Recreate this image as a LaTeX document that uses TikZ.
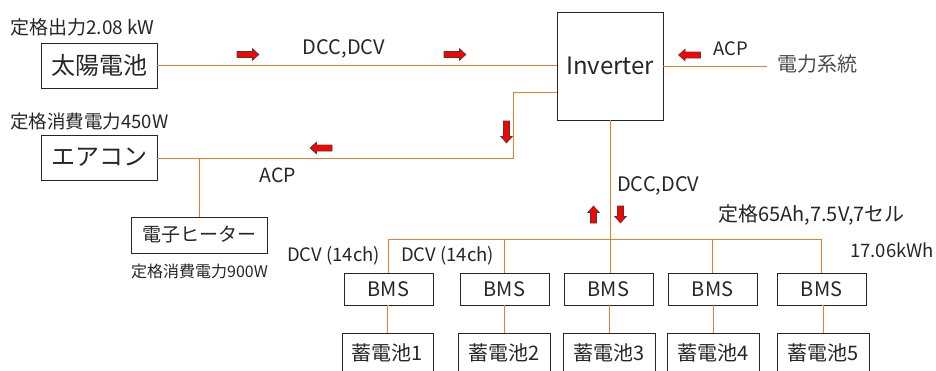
\documentclass[tikz,border=0pt]{standalone}
\usepackage{fontspec}
\setmainfont{Noto Sans CJK JP}
\newcommand{\myfs}[1]{\fontsize{#1}{#1}\selectfont}
\newcommand{\blkarrow}[3]{% center, rotation, length
  \begin{scope}[shift={#1}, rotate=#2]
    \filldraw[blkarr] (-#3/2,-3) -- (#3/2-6.5,-3) -- (#3/2-6.5,-5.8) -- (#3/2,0)
      -- (#3/2-6.5,5.8) -- (#3/2-6.5,3) -- (-#3/2,3) -- cycle;
  \end{scope}}
\definecolor{wireor}{HTML}{ED7D31}
\definecolor{txt}{HTML}{262626}
\begin{document}
\begin{tikzpicture}[x=1pt,y=-1pt,
  box/.style={draw=black!85, line width=0.9pt, inner sep=0pt, text=txt},
  wire/.style={draw=wireor, line width=1pt},
  lbl/.style={inner sep=0pt, text=txt},
  blkarr/.style={draw=black!75, line width=0.6pt, fill=red, line join=miter}
]
\useasboundingbox (0,0) rectangle (936,370);
% boxes
\node[box, minimum width=116pt, minimum height=45pt, font=\myfs{24pt}] (solar) at (99,65.5) {太陽電池};
\node[box, minimum width=116pt, minimum height=45pt, font=\myfs{24pt}] (aircon) at (99,157.5) {エアコン};
\node[box, minimum width=106pt, minimum height=108pt, font=\myfs{24pt}] (inv) at (610,66) {Inverter};
\node[box, minimum width=136pt, minimum height=36pt, font=\myfs{19pt}] (heater) at (199,235) {電子ヒーター};
\foreach \i/\x in {1/388.5,2/504.5,3/608.5,4/712.5,5/821.5}{
  \node[box, minimum width=89pt, minimum height=32pt, font=\myfs{20pt}] (bms\i) at (\x,289) {BMS};
}
\foreach \i/\x/\w in {1/387.5/91,2/504/92,3/609/92,4/713/92,5/823/92}{
  \node[box, minimum width=\w pt, minimum height=40pt, font=\myfs{20pt}] (bat\i) at (\x,353) {\raisebox{2pt}{蓄電池\i}};
}
% coordinates
\coordinate (k1) at (513,158);
\coordinate (grid) at (767,66);
\coordinate (bus) at (0,239);
% wires
\draw[wire] (solar.east) -- (solar.east -| inv.west);
\draw[wire] ([yshift=-26pt]inv.west) -| (k1) -- (aircon.east |- k1);
\draw[wire] (inv.east) -- (grid);
\draw[wire] (heater.north) -- (heater.north |- k1);
\draw[wire] (inv.south) -- (inv.south |- bms3.north);
\draw[wire] (bms1.north) |- (bus -| bms5.north) -- (bms5.north);
\foreach \i in {2,4}{ \draw[wire] (bms\i.north) -- (bms\i.north |- bus); }
\foreach \i in {1,...,5}{ \draw[wire] (bms\i.south) -- (bat\i.north |- bms\i.south) -- (bat\i.north); }
% block arrows
\blkarrow{(248,54.5)}{0}{22}
\blkarrow{(455,54.5)}{0}{22}
\blkarrow{(689.5,55)}{180}{22}
\blkarrow{(506.5,132)}{-90}{22}
\blkarrow{(321,148)}{180}{22}
\blkarrow{(593.5,214.5)}{90}{17}
\blkarrow{(620.5,214.5)}{-90}{17}
% labels
\node[lbl, anchor=west, font=\myfs{19pt}] (t1) at (10,27) {定格出力2.08 kW};
\node[lbl, font=\myfs{20pt}] (t2) at (344,49) {DCC,DCV};
\node[lbl, font=\myfs{18.5pt}] (t3) at (731,49) {ACP};
\node[lbl, font=\myfs{20pt}, text=black!70] (t4) at (817,64) {電力系統};
\node[lbl, anchor=west, font=\myfs{18.5pt}] (t5) at (10,122) {定格消費電力450W};
\node[lbl, font=\myfs{19.5pt}] (t6) at (278,175) {ACP};
\node[lbl, anchor=west, font=\myfs{16pt}] (t7) at (131,271) {定格消費電力900W};
\node[lbl, anchor=west, font=\myfs{18.5pt}] (t8) at (287,256) {DCV (14ch)};
\node[lbl, anchor=west, font=\myfs{18.5pt}] (t9) at (401,256) {DCV (14ch)};
\node[lbl, anchor=west, font=\myfs{20pt}] (t10) at (617,186) {DCC,DCV};
\node[lbl, anchor=west, font=\myfs{20pt}] (t11) at (718,215) {定格65Ah,7.5V,7セル};
\node[lbl, anchor=west, font=\myfs{18.5pt}] (t12) at (850,250) {17.06kWh};
\end{tikzpicture}
\end{document}
